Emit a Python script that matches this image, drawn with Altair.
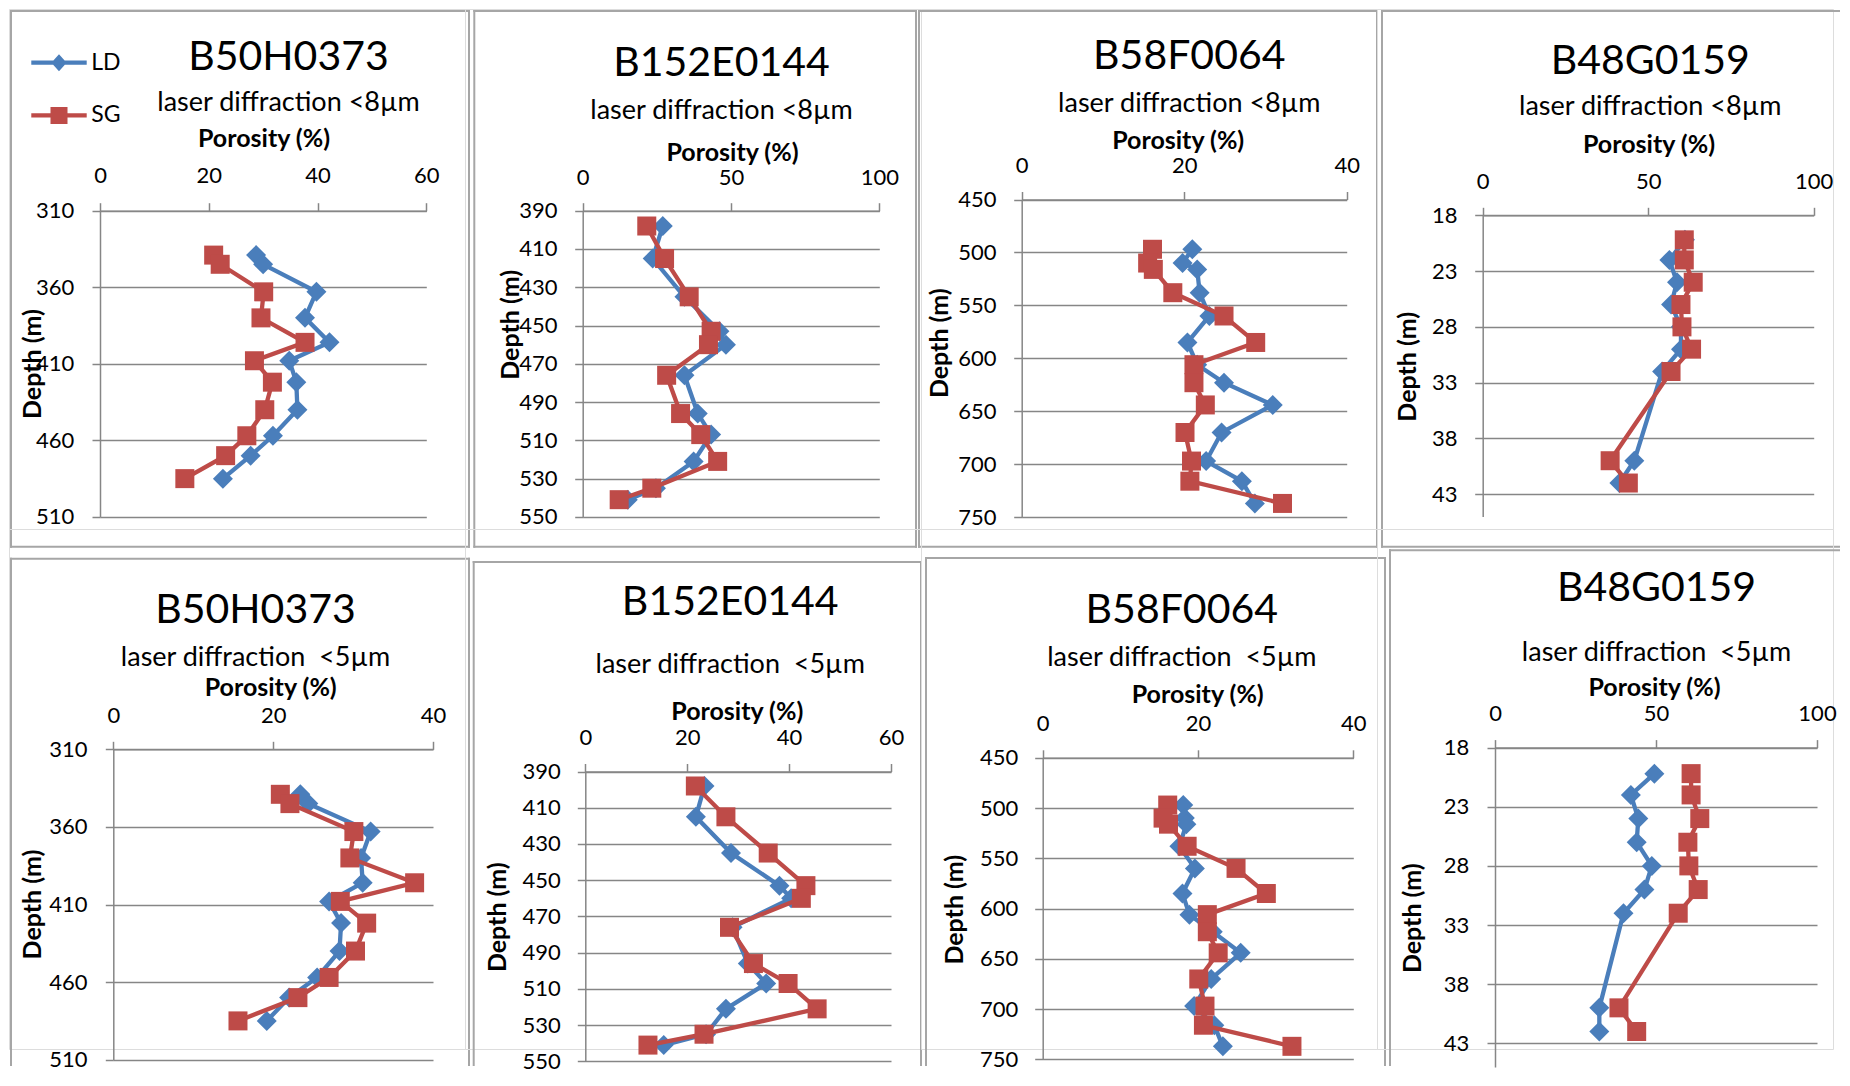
import altair as alt
import pandas as pd

# ---------------- data ----------------
SERIES = ["LD", "SG"]
WELLS = ["B50H0373", "B152E0144", "B58F0064", "B48G0159"]
SUB_8 = "laser diffraction <8µm"
SUB_5 = "laser diffraction\u00a0 <5µm"

B50_DEPTH = [339, 345, 363, 380, 396, 408, 422, 440, 457, 470, 485]
B50_LD8 = [28.7, 30.0, 39.8, 37.7, 42.2, 34.8, 36.1, 36.3, 31.8, 27.7, 22.6]
B50_LD5 = [23.4, 24.4, 32.2, 31.0, 31.2, 27.0, 28.5, 28.3, 25.5, 22.0, 19.2]
B50_SG = [20.9, 22.1, 30.1, 29.6, 37.7, 28.4, 31.7, 30.3, 27.0, 23.1, 15.6]

B152_DEPTH = [398, 415, 435, 453, 460, 476, 496, 507, 521, 535, 541]
B152_LD8 = [27.0, 23.6, 34.3, 46.1, 48.3, 34.3, 38.8, 43.3, 37.4, 24.7, 15.2]
B152_LD5 = [23.4, 21.7, 28.6, 38.1, 40.4, 28.9, 31.9, 35.5, 27.6, 23.7, 15.4]
B152_SG = [21.6, 27.6, 35.9, 43.3, 42.4, 28.3, 33.0, 39.8, 45.5, 23.3, 12.3]

B58_DEPTH = [497, 510, 516, 538, 560, 585, 606, 623, 644, 670, 697, 716, 737]
B58_LD8 = [21.0, 19.8, 21.6, 21.9, 23.1, 20.4, 21.6, 24.9, 30.9, 24.6, 22.7, 27.1, 28.7]
B58_LD5 = [18.1, 18.3, 18.5, 17.6, 19.6, 18.0, 18.9, 21.9, 25.5, 21.7, 19.5, 22.1, 23.2]
B58_SG = [16.1, 15.5, 16.2, 18.6, 24.9, 28.8, 21.2, 21.2, 22.6, 20.1, 20.9, 20.7, 32.1]

B48_DEPTH = [20.2, 22.0, 24.0, 26.0, 28.0, 30.0, 32.0, 40.0, 42.0]
B48_LD8 = [61.1, 56.4, 58.7, 56.9, 59.9, 59.9, 54.2, 45.8, 41.3]
B48_LD5 = [49.5, 42.2, 44.5, 44.0, 48.7, 46.4, 39.9, 32.4, 32.4]
B48_SG = [60.9, 60.9, 63.6, 59.9, 60.2, 63.1, 56.9, 38.5, 44.0]

X_DOMAINS_8 = [[0, 60], [0, 100], [0, 40], [0, 100]]
X_TICKS_8 = [[0, 20, 40, 60], [0, 50, 100], [0, 20, 40], [0, 50, 100]]
X_DOMAINS_5 = [[0, 40], [0, 60], [0, 40], [0, 100]]
X_TICKS_5 = [[0, 20, 40], [0, 20, 40, 60], [0, 20, 40], [0, 50, 100]]
Y_DOMAINS = [[310, 510], [390, 550], [450, 750], [18, 45]]
Y_TICKS = [[310, 360, 410, 460, 510],
           [390, 410, 430, 450, 470, 490, 510, 530, 550],
           [450, 500, 550, 600, 650, 700, 750],
           [18, 23, 28, 33, 38, 43]]

# ---------------- styling / layout ----------------
FONT = "Lato"
BLUE = "#4A7EBB"
RED = "#BE4B48"
GRAY = "#868686"
FRAME = "#A6A6A6"
CW, CH = 456, 520          # grid cell size (layout only)
PAGE = 8                   # page margin: cell (0,0) origin sits here
TITLE_FS, SUB_FS, AX_TITLE_FS, TICK_FS, LEG_FS = 41, 27, 25, 22, 23
LINE_W = 4.3
LEG_SIZE = 289  # r = 8.5 px
LD_PATH = "M-3.26,-0.25L3.26,-0.25L3.26,0.25L-3.26,0.25ZM0,-1L0.9,0L0,1L-0.9,0Z"
SG_PATH = "M-3.26,-0.25L3.26,-0.25L3.26,0.25L-3.26,0.25ZM-1,-1L1,-1L1,1L-1,1Z"

# page-space layout of each panel (plot box, frame, text anchors)
LAYOUT = [
    dict(x0=99, x1=425.3, y0=209.7, y1=515.9, fl=10, ft=10, fr=468, fb=545.7,
         tx=287.5, ty=55, sy=101, px=262.5, py=137.5, xl=174.8, yl=72.7,
         dpx=31.7, dpy=362.6, lx=58.3, ly1=62.9, ly2=114.6),
    dict(x0=581.7, x1=878.3, y0=209.7, y1=515.9, fl=473.3, ft=10, fr=915, fb=545.7,
         tx=720.5, ty=60.8, sy=108.4, px=731, py=151.5, xl=176, yl=556,
         dpx=509.3, dpy=323.4, lx=509.2, ly1=83.2, ly2=131.1),
    dict(x0=1020.7, x1=1345.7, y0=198.5, y1=516.2, fl=918, ft=10, fr=1376, fb=545.7,
         tx=1188.3, ty=53.3, sy=101.4, px=1176.7, py=139.8, xl=164.3, yl=995,
         dpx=938.3, dpy=341.7, lx=971.3, ly1=76.9, ly2=127.6),
    dict(x0=1481.7, x1=1812.7, y0=214.3, y1=515.5, fl=1381, ft=10, fr=None, fb=545.7,
         tx=1649.2, ty=58.5, sy=104.9, px=1647.5, py=143.3, xl=180, yl=1456,
         dpx=1406.7, dpy=365.3, lx=1438.8, ly1=72.7, ly2=120.6),
    dict(x0=112.3, x1=432, y0=748.3, y1=1058.7, fl=10, ft=557.7, fr=468, fb=None,
         tx=254.5, ty=608, sy=656, px=269.2, py=686.8, xl=714.1, yl=86,
         dpx=31.7, dpy=903, lx=50, ly1=638.2, ly2=686.8),
    dict(x0=584.3, x1=890, y0=770.5, y1=1060.4, fl=472.7, ft=561, fr=920, fb=None,
         tx=729.2, ty=599.3, sy=662.8, px=735.8, py=710.7, xl=736.3, yl=559.3,
         dpx=496, dpy=915.7, lx=512.8, ly1=647.4, ly2=696.3),
    dict(x0=1041.7, x1=1352.3, y0=756.8, y1=1058.4, fl=925, ft=557, fr=1384, fb=None,
         tx=1180.8, ty=608, sy=656, px=1196.2, py=693.6, xl=722.6, yl=1016.7,
         dpx=953.3, dpy=908.2, lx=968.3, ly1=626.9, ly2=674.8),
    dict(x0=1494, x1=1816, y0=746.6, y1=1066, fl=1389, ft=549.3, fr=None, fb=None,
         tx=1655.5, ty=585.6, sy=650.9, px=1653, py=686.8, xl=712.4, yl=1467.7,
         dpx=1411, dpy=916.7, lx=1432.5, ly1=591, ly2=641.6),
]
RIGHT_LIMIT = 1838
BOTTOM_LIMIT = 1064

ONE = pd.DataFrame({"k": [0]})


def frame_rules(L, X, Y):
    rules = []
    bottom = L["fb"] if L["fb"] is not None else BOTTOM_LIMIT
    right = L["fr"] if L["fr"] is not None else RIGHT_LIMIT
    style = dict(color=FRAME, strokeWidth=2, strokeCap="square")
    rules.append(alt.Chart(ONE).mark_rule(**style).encode(
        x=alt.value(X(L["fl"])), y=alt.value(Y(L["ft"])), y2=alt.value(Y(bottom))))
    rules.append(alt.Chart(ONE).mark_rule(**style).encode(
        x=alt.value(X(L["fl"])), x2=alt.value(X(right)), y=alt.value(Y(L["ft"]))))
    if L["fr"] is not None:
        rules.append(alt.Chart(ONE).mark_rule(**style).encode(
            x=alt.value(X(right)), y=alt.value(Y(L["ft"])), y2=alt.value(Y(bottom))))
    if L["fb"] is not None:
        rules.append(alt.Chart(ONE).mark_rule(**style).encode(
            x=alt.value(X(L["fl"])), x2=alt.value(X(right)), y=alt.value(Y(bottom))))
    return rules


def make_panel(idx, title, subtitle, depth, ld, sg, xdom, xticks, ydom, yticks):
    L = LAYOUT[idx]
    row, col = divmod(idx, 4)
    ox, oy = col * CW + PAGE, row * CH + PAGE
    X = lambda v: v - ox
    Y = lambda v: v - oy
    n = len(depth)
    df = pd.DataFrame({
        "depth": list(depth) * 2,
        "porosity": list(ld) + list(sg),
        "series": [SERIES[0]] * n + [SERIES[1]] * n,
    })
    x0, x1, y0, y1 = X(L["x0"]), X(L["x1"]), Y(L["y0"]), Y(L["y1"])

    x_axis = alt.Axis(
        orient="top", values=xticks, offset=-y0, grid=False,
        domainColor=GRAY, domainWidth=1.5, tickColor=GRAY, tickWidth=1.5, tickSize=8,
        labelFont=FONT, labelFontSize=TICK_FS, labelColor="black", labelBaseline="middle",
        labelPadding=L["y0"] - L["xl"] - 8, labelFlush=False, labelOverlap=False,
        title="Porosity (%)", titleFont=FONT, titleFontSize=AX_TITLE_FS, titleFontWeight="bold",
        titleColor="black", titleX=X(L["px"]), titleY=L["py"] - L["y0"],
        titleBaseline="middle", titleAlign="center", titleAngle=0,
    )
    y_axis = alt.Axis(
        orient="left", values=yticks, offset=-x0, grid=True, gridColor=GRAY, gridWidth=1.5,
        domainColor=GRAY, domainWidth=1.5, tickColor=GRAY, tickWidth=1.5, tickSize=8,
        labelFont=FONT, labelFontSize=TICK_FS, labelColor="black", labelBaseline="middle",
        labelAlign="right", labelPadding=L["x0"] - L["yl"] - 8, labelFlush=False,
        labelOverlap=False,
        title="Depth (m)", titleFont=FONT, titleFontSize=AX_TITLE_FS, titleFontWeight="bold",
        titleColor="black", titleX=L["dpx"] - L["x0"], titleY=Y(L["dpy"]),
        titleBaseline="middle", titleAlign="center", titleAngle=270,
    )
    x_enc = alt.X("porosity:Q", scale=alt.Scale(domain=xdom, range=[x0, x1], nice=False, zero=False),
                  axis=x_axis)
    y_enc = alt.Y("depth:Q", scale=alt.Scale(domain=ydom, range=[y0, y1], nice=False, zero=False),
                  axis=y_axis)
    order = alt.Order("depth:Q")

    legend = alt.Legend(
        orient="none", legendX=X(L["lx"]) - 11.8, legendY=Y(L["ly1"]) - 12.7, title=None,
        direction="vertical", symbolSize=LEG_SIZE, symbolStrokeWidth=0, symbolOffset=0,
        labelOffset=20.7, labelFont=FONT, labelFontSize=LEG_FS, labelColor="black",
        labelAlign="left", labelBaseline="middle",
        rowPadding=(L["ly2"] - L["ly1"]) - 23, padding=0,
    )
    base = alt.Chart(df)
    legend_layer = base.mark_point(filled=True, size=1, opacity=1).encode(
        x=x_enc, y=y_enc,
        color=alt.Color("series:N", scale=alt.Scale(domain=SERIES, range=[BLUE, RED]), legend=legend),
        shape=alt.Shape("series:N", scale=alt.Scale(domain=SERIES, range=[LD_PATH, SG_PATH]), legend=legend),
    )
    ld = base.transform_filter(alt.datum.series == "LD")
    sg = base.transform_filter(alt.datum.series == "SG")
    ld_line = ld.mark_line(color=BLUE, strokeWidth=LINE_W).encode(x=x_enc, y=y_enc, order=order)
    ld_pts = ld.mark_point(shape="diamond", filled=True, size=400, color=BLUE, opacity=1).encode(x=x_enc, y=y_enc)
    sg_line = sg.mark_line(color=RED, strokeWidth=LINE_W).encode(x=x_enc, y=y_enc, order=order)
    sg_pts = sg.mark_point(shape="square", filled=True, size=361, color=RED, opacity=1).encode(x=x_enc, y=y_enc)

    # title placement: block sits above the top of the view bounds (cell origin)
    pad = (L["sy"] - L["ty"]) - TITLE_FS - 0.43 * SUB_FS + 0.43 * TITLE_FS
    group_y = Y(L["ty"]) - 0.43 * TITLE_FS
    bound_top = min(0.0, Y(L["ft"]) - 2)
    offset = bound_top - (TITLE_FS + pad + SUB_FS) - group_y
    title_params = alt.TitleParams(
        text=title, subtitle=subtitle, orient="top", anchor="start", frame="group",
        align="center", baseline="top", dx=X(L["tx"]), offset=offset, subtitlePadding=pad,
        font=FONT, fontSize=TITLE_FS, fontWeight="normal", color="black",
        subtitleFont=FONT, subtitleFontSize=SUB_FS, subtitleColor="black",
    )

    layers = frame_rules(L, X, Y) + [legend_layer, ld_line, ld_pts, sg_line, sg_pts]
    return alt.layer(*layers).properties(width=CW, height=CH, title=title_params)


panels = [
    make_panel(0, WELLS[0], SUB_8, B50_DEPTH, B50_LD8, B50_SG, X_DOMAINS_8[0], X_TICKS_8[0], Y_DOMAINS[0], Y_TICKS[0]),
    make_panel(1, WELLS[1], SUB_8, B152_DEPTH, B152_LD8, B152_SG, X_DOMAINS_8[1], X_TICKS_8[1], Y_DOMAINS[1], Y_TICKS[1]),
    make_panel(2, WELLS[2], SUB_8, B58_DEPTH, B58_LD8, B58_SG, X_DOMAINS_8[2], X_TICKS_8[2], Y_DOMAINS[2], Y_TICKS[2]),
    make_panel(3, WELLS[3], SUB_8, B48_DEPTH, B48_LD8, B48_SG, X_DOMAINS_8[3], X_TICKS_8[3], Y_DOMAINS[3], Y_TICKS[3]),
    make_panel(4, WELLS[0], SUB_5, B50_DEPTH, B50_LD5, B50_SG, X_DOMAINS_5[0], X_TICKS_5[0], Y_DOMAINS[0], Y_TICKS[0]),
    make_panel(5, WELLS[1], SUB_5, B152_DEPTH, B152_LD5, B152_SG, X_DOMAINS_5[1], X_TICKS_5[1], Y_DOMAINS[1], Y_TICKS[1]),
    make_panel(6, WELLS[2], SUB_5, B58_DEPTH, B58_LD5, B58_SG, X_DOMAINS_5[2], X_TICKS_5[2], Y_DOMAINS[2], Y_TICKS[2]),
    make_panel(7, WELLS[3], SUB_5, B48_DEPTH, B48_LD5, B48_SG, X_DOMAINS_5[3], X_TICKS_5[3], Y_DOMAINS[3], Y_TICKS[3]),
]

chart = alt.concat(*panels, columns=4, spacing=0, bounds="flush").properties(
    padding=0, background="white"
).configure_view(strokeWidth=0).configure(font=FONT)

chart.save("out.html", embed_options={"renderer": "svg", "actions": False})
